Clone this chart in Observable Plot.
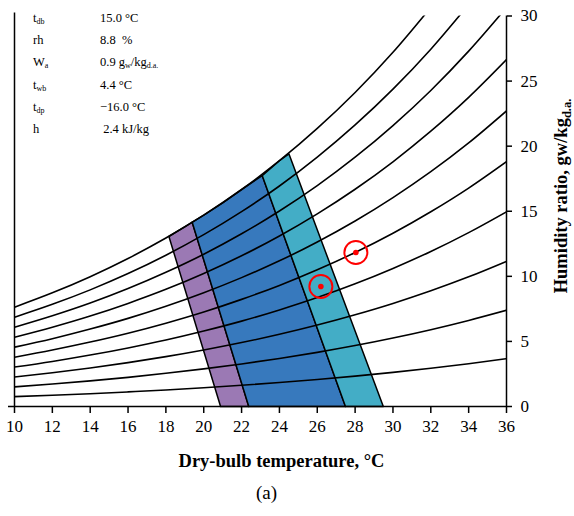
<!DOCTYPE html>
<html>
<head>
<meta charset="utf-8">
<script src="https://cdn.jsdelivr.net/npm/d3@7"></script>
<script src="https://cdn.jsdelivr.net/npm/@observablehq/plot@0.6"></script>
<style>
  html, body { margin: 0; padding: 0; background: white; }
  #wrap { position: relative; width: 574px; height: 516px; font-family: "Liberation Serif", "Times New Roman", serif; }
  #info { position: absolute; left: 0; top: 7px; font-size: 12.5px; line-height: 22.2px; color: #000; }
  #info .row { position: relative; height: 22.2px; }
  #info .lab { position: absolute; left: 33px; white-space: nowrap; }
  #info .val { position: absolute; left: 100px; white-space: nowrap; }
  #info sub { font-size: 8px; vertical-align: -2px; line-height: 0; }
</style>
</head>
<body>
<div id="wrap">
  <div id="chart"></div>
  <div id="info"></div>
</div>
<script>
// ---- data ----
const temps = [10, 12, 14, 16, 18, 20, 22, 24, 26, 28, 30, 32, 34, 36];
const rh10  = [0.76, 0.86, 0.98, 1.12, 1.27, 1.44, 1.63, 1.84, 2.07, 2.33, 2.62, 2.94, 3.29, 3.67];
const rh20  = [1.51, 1.73, 1.97, 2.24, 2.55, 2.89, 3.27, 3.69, 4.16, 4.68, 5.26, 5.90, 6.61, 7.39];
const rh30  = [2.27, 2.59, 2.96, 3.37, 3.83, 4.34, 4.91, 5.55, 6.26, 7.05, 7.92, 8.89, 9.96, 11.15];
const rh40  = [3.03, 3.46, 3.95, 4.50, 5.11, 5.80, 6.56, 7.42, 8.37, 9.43, 10.61, 11.91, 13.36, 14.96];
const rh50  = [3.79, 4.34, 4.95, 5.63, 6.40, 7.26, 8.23, 9.30, 10.50, 11.83, 13.31, 14.96, 16.78, 18.81];
const rh60  = [4.56, 5.21, 5.95, 6.77, 7.70, 8.74, 9.90, 11.19, 12.64, 14.25, 16.05, 18.04, 20.25, 22.71];
const rh70  = [5.32, 6.09, 6.95, 7.92, 9.00, 10.22, 11.58, 13.10, 14.80, 16.69, 18.80, 21.15, 23.75, 26.65];
const rh80  = [6.09, 6.97, 7.95, 9.06, 10.31, 11.70, 13.27, 15.02, 16.97, 19.15, 21.58, 24.28, 27.30, 30.65];
const rh90  = [6.86, 7.85, 8.96, 10.21, 11.62, 13.20, 14.97, 16.94, 19.16, 21.63, 24.38, 27.45, 30.88];
const rh100 = [7.63, 8.73, 9.97, 11.37, 12.94, 14.70, 16.67, 18.88, 21.36, 24.12, 27.21, 30.66];
const rhCurves = [rh10, rh20, rh30, rh40, rh50, rh60, rh70, rh80, rh90, rh100];

// comfort zones (dry-bulb °C, humidity ratio g/kg)
const purpleT = [20.89, 18.16, 19.39, 22.38, 20.89];
const purpleW = [0, 13.06, 14.16, 0, 0];
const blueT   = [22.38, 19.39, 20, 21, 22, 23.09, 27.49, 22.38];
const blueW   = [0, 14.16, 14.70, 15.65, 16.67, 17.74, 0, 0];
const cyanT   = [27.49, 23.09, 24, 24.5, 29.49, 27.49];
const cyanW   = [0, 17.74, 18.88, 19.41, 0, 0];

// measured states
const pointT = [28.04, 26.19];
const pointW = [11.83, 9.22];

const xTicks = [10, 12, 14, 16, 18, 20, 22, 24, 26, 28, 30, 32, 34, 36];
const yTicks = [0, 5, 10, 15, 20, 25, 30];

const infoLabels = [["t", "db"], ["rh", ""], ["W", "a"], ["t", "wb"], ["t", "dp"], ["h", ""]];
const infoValues = ["15.0 °C", "8.8&nbsp;&nbsp;%", "0.9 g<sub>w</sub>/kg<sub>d.a.</sub>", "4.4 °C", "−16.0 °C", "&nbsp;2.4 kJ/kg"];

// ---- build tables ----
const curveRows = rhCurves.flatMap((vals, k) => vals.map((w, i) => ({t: temps[i], w, rh: (k + 1) * 10})));
const zone = (T, W) => T.map((t, i) => ({t, w: W[i]}));
const points = pointT.map((t, i) => ({t, w: pointW[i]}));

const chart = Plot.plot({
  width: 574,
  height: 516,
  marginLeft: 14,
  marginRight: 68,
  marginTop: 15.5,
  marginBottom: 110,
  x: {domain: [10, 36]},
  y: {domain: [0, 30]},
  style: {fontFamily: "'Liberation Serif', 'Times New Roman', serif", fontSize: "17px", color: "black", background: "white"},
  marks: [
    Plot.line(zone(purpleT, purpleW), {x: "t", y: "w", fill: "#9b79b4", stroke: "black", strokeWidth: 1.5}),
    Plot.line(zone(blueT, blueW), {x: "t", y: "w", fill: "#3779bd", stroke: "black", strokeWidth: 1.5}),
    Plot.line(zone(cyanT, cyanW), {x: "t", y: "w", fill: "#43adc6", stroke: "black", strokeWidth: 1.5}),
    Plot.line(curveRows, {x: "t", y: "w", z: "rh", stroke: "black", strokeWidth: 1.6, curve: "monotone-x", clip: true}),
    Plot.ruleX([10], {stroke: "black", strokeWidth: 1.5, insetTop: -3}),
    Plot.ruleX([36], {stroke: "black", strokeWidth: 1.5}),
    Plot.ruleY([0], {stroke: "black", strokeWidth: 1.5, insetLeft: -6}),
    Plot.axisX({ticks: xTicks, tickSize: 7, tickPadding: 6, tickFormat: d => String(d), label: null, strokeWidth: 1.5}),
    Plot.axisY({anchor: "right", ticks: yTicks, tickSize: 5, tickPadding: 9, tickFormat: d => String(d), label: null, strokeWidth: 1.5}),
    Plot.dot(points, {x: "t", y: "w", r: 11.5, stroke: "#ff0000", strokeWidth: 2, fill: "none"}),
    Plot.dot(points, {x: "t", y: "w", r: 2.8, fill: "#ff0000", stroke: "none"}),
    Plot.text(["Dry-bulb temperature, °C"], {frameAnchor: "bottom", dy: 60, dx: 21, fontSize: 18.5, fontWeight: "bold"}),
    Plot.text(["(a)"], {frameAnchor: "bottom", dy: 92, dx: 6, fontSize: 19})
  ]
});

document.getElementById("chart").appendChild(chart);

// y-axis title with subscript
const svg = d3.select(chart);
const yt = svg.append("text")
  .attr("transform", "translate(567,196) rotate(-90)")
  .attr("text-anchor", "middle")
  .attr("font-weight", "bold")
  .attr("font-size", 18.5)
  .attr("fill", "black");
yt.append("tspan").text("Humidity ratio, gw/kg");
yt.append("tspan").attr("font-size", 12.5).attr("dy", 4).text("d.a.");

// info block
const info = document.getElementById("info");
infoLabels.forEach(([m, s], i) => {
  const row = document.createElement("div");
  row.className = "row";
  row.innerHTML = `<span class="lab">${m}${s ? `<sub>${s}</sub>` : ""}</span><span class="val">${infoValues[i]}</span>`;
  info.appendChild(row);
});
</script>
</body>
</html>
